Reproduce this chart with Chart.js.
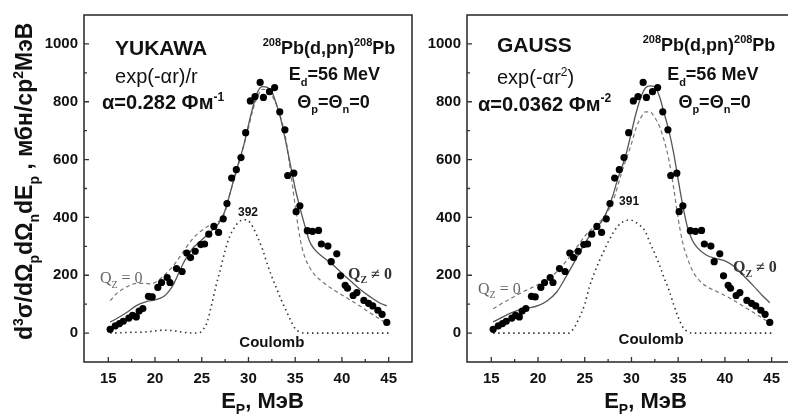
<!DOCTYPE html>
<html>
<head>
<meta charset="utf-8">
<script src="https://cdn.jsdelivr.net/npm/chart.js@4.4.1/dist/chart.umd.min.js"></script>
<style>
  html, body { margin: 0; padding: 0; background: #fff; overflow: hidden; width: 788px; height: 416px; }
  .panel { position: absolute; top: 0; width: 420px; height: 416px; }
</style>
</head>
<body>
<div class="panel" style="left:0"><canvas id="yukawaChart" width="420" height="416"></canvas></div>
<div class="panel" style="left:383px"><canvas id="gaussChart" width="420" height="416"></canvas></div>
<script>
// tick labels
const xTicks = [15, 20, 25, 30, 35, 40, 45];
const yTicks = [0, 200, 400, 600, 800, 1000];

// experimental points (same for both panels)
const expE = [15.2, 15.75, 16.2, 16.6, 17.2, 17.6, 18.0, 18.3, 18.7, 19.3, 19.7, 20.3, 20.7, 21.3, 21.6,
  22.3, 22.9, 23.4, 23.8, 24.3, 24.9, 25.3, 25.75, 26.3, 26.8, 27.3, 27.7, 28.2, 28.7, 29.2, 29.7,
  30.2, 30.7, 31.25, 31.6, 32.25, 32.8, 33.35, 33.9, 34.2, 34.85, 35.1, 35.5, 36.3, 36.85, 37.5,
  37.8, 38.5, 38.85, 39.45, 39.85, 40.35, 40.6, 41.2, 41.6, 42.35, 42.85, 43.3, 43.85, 44.3, 44.8];
const expV = [13, 25, 33, 41, 52, 61, 56, 76, 85, 127, 125, 158, 175, 192, 175,
  223, 213, 277, 261, 283, 306, 308, 342, 369, 348, 395, 448, 536, 565, 607, 693,
  803, 818, 867, 815, 835, 849, 765, 703, 545, 553, 420, 440, 354, 352, 355,
  308, 301, 247, 274, 198, 165, 155, 130, 140, 113, 103, 94, 79, 65, 37];

// YUKAWA: Q_Z != 0 (solid), Q_Z = 0 (dashed), Coulomb (dotted)
const yukSolidE = [15.2, 16, 17, 18, 19, 20, 20.5, 21, 21.5, 22, 22.5, 23, 23.5, 24, 24.5, 25, 26, 27, 27.5, 28,
  28.5, 29, 29.5, 30, 30.5, 31, 31.5, 32, 32.5, 33, 33.5, 34, 34.5, 35, 35.5, 36, 36.5, 37, 38, 39, 40, 41, 42, 43, 44, 44.8];
const yukSolidV = [38, 52, 72, 95, 108, 115, 120, 128, 145, 170, 205, 240, 268, 292, 308, 322, 352, 388, 425, 480,
  540, 595, 650, 720, 785, 835, 852, 850, 835, 790, 735, 660, 580, 500, 435, 375, 320, 292, 262, 237, 207, 178, 150, 126, 105, 94];
const yukDashE = [15.2, 16, 17, 18, 19, 19.5, 20, 21, 22, 23, 24, 25, 26, 27, 27.5, 28, 29, 30, 30.5, 31, 31.5, 32,
  32.5, 33, 33.5, 34, 34.5, 35, 35.5, 36, 36.5, 37, 38, 39, 40, 41, 42, 43, 44, 44.8];
const yukDashV = [112, 140, 160, 172, 172, 170, 175, 200, 235, 280, 325, 355, 375, 392, 420, 480, 590, 710, 775, 820, 843, 840,
  820, 790, 740, 670, 560, 440, 330, 265, 230, 205, 175, 152, 132, 112, 92, 70, 50, 32];
const yukCoulE = [15.2, 17, 19, 21, 22, 23, 24, 24.8, 25.2, 25.6, 26, 26.5, 27, 27.5, 28, 28.5, 29, 29.5, 30, 30.5,
  31, 31.5, 32, 32.5, 33, 33.5, 34, 34.5, 35, 35.5, 36, 45];
const yukCoulV = [0, 2, 4, 10, 8, 3, 0, 2, 15, 40, 90, 160, 220, 285, 335, 365, 385, 392, 388, 365,
  330, 290, 240, 195, 155, 115, 80, 45, 15, 4, 0, 0];

// GAUSS
const gauSolidE = [15.2, 16, 17, 18, 19, 20, 21, 22, 23, 24, 25, 26, 27, 28, 28.5, 29, 29.5, 30, 30.5, 31, 31.5, 32,
  32.5, 33, 33.5, 34, 34.5, 35, 35.5, 36, 36.5, 37, 38, 39, 40, 41, 42, 43, 44, 44.8];
const gauSolidV = [39, 52, 68, 80, 87, 95, 112, 142, 195, 252, 310, 358, 395, 475, 530, 575, 628, 695, 762, 815, 848, 855,
  852, 818, 760, 700, 625, 530, 440, 365, 322, 297, 270, 258, 250, 230, 198, 165, 130, 105];
const gauDashE = [15.2, 16, 17, 18, 19, 20, 21, 22, 23, 24, 25, 26, 27, 28, 29, 30, 30.5, 31, 31.5, 32, 32.5, 33, 33.5,
  34, 34.5, 35, 35.5, 36, 36.5, 37, 38, 39, 40, 41, 42, 43, 44, 44.8];
const gauDashV = [84, 100, 118, 136, 152, 168, 185, 212, 248, 290, 335, 368, 400, 455, 560, 655, 710, 745, 765, 765, 745, 715, 665,
  600, 505, 395, 310, 258, 218, 192, 162, 146, 130, 112, 92, 72, 52, 35];
const gauCoulE = [15.2, 17, 19, 21, 23.3, 23.8, 24.3, 25, 25.5, 26, 26.5, 27, 27.5, 28, 28.5, 29, 29.5, 30, 30.5, 31,
  31.5, 32, 32.5, 33, 33.5, 34, 34.5, 35, 35.5, 36, 36.5, 45];
const gauCoulV = [0, 0, 0, 0, 0, 15, 45, 100, 160, 205, 245, 280, 315, 345, 368, 383, 390, 390, 382, 370,
  350, 310, 275, 235, 190, 150, 100, 55, 20, 5, 0, 0];

const SANS = '"Liberation Sans", Arial, sans-serif';
const SERIF = '"Liberation Serif", "Times New Roman", serif';

const pairs = (xs, ys) => xs.map((x, i) => ({ x, y: ys[i] }));

function fontStr(size, bold, family) {
  return (bold ? 'bold ' : '') + size + 'px ' + family;
}

// draws text made of [text, 'sup'|'sub'] parts, y is the vertical centre of capitals
function richText(ctx, parts, x, y, o) {
  const size = o.size, fam = o.family || SANS;
  const small = Math.round(size * 0.62);
  const widths = parts.map(([t, k]) => {
    ctx.font = fontStr(k ? small : size, o.bold, fam);
    return ctx.measureText(t).width;
  });
  const total = widths.reduce((a, b) => a + b, 0);
  let cx = o.align === 'center' ? x - total / 2 : (o.align === 'right' ? x - total : x);
  const base = y + size * 0.36;
  ctx.fillStyle = o.color || '#111';
  ctx.textBaseline = 'alphabetic';
  ctx.textAlign = 'left';
  parts.forEach(([t, k], i) => {
    ctx.font = fontStr(k ? small : size, o.bold, fam);
    const dy = k === 'sup' ? -size * 0.42 : (k === 'sub' ? size * 0.28 : 0);
    ctx.fillText(t, cx, base + dy);
    cx += widths[i];
  });
}

const decorPlugin = {
  id: 'decor',
  afterDraw(chart) {
    const { ctx, chartArea: a, scales: { x, y } } = chart;
    const cfg = chart.options.plugins.decor;
    ctx.save();
    // frame
    ctx.strokeStyle = '#333';
    ctx.lineWidth = 1.6;
    ctx.strokeRect(a.left, a.top, a.right - a.left, a.bottom - a.top);
    // inside ticks, major and minor
    ctx.lineWidth = 1.3;
    ctx.beginPath();
    xTicks.forEach((v, i) => {
      const px = x.getPixelForValue(v);
      ctx.moveTo(px, a.bottom); ctx.lineTo(px, a.bottom - 5);
      if (i < xTicks.length - 1) {
        const pm = x.getPixelForValue(v + 2.5);
        ctx.moveTo(pm, a.bottom); ctx.lineTo(pm, a.bottom - 3);
      }
    });
    yTicks.forEach(v => {
      const py = y.getPixelForValue(v);
      ctx.moveTo(a.left, py); ctx.lineTo(a.left + 5, py);
      const pm = y.getPixelForValue(v + 100);
      if (pm > a.top) { ctx.moveTo(a.left, pm); ctx.lineTo(a.left + 3, pm); }
    });
    ctx.stroke();

    // annotations placed in data coordinates
    cfg.labels.forEach(l => {
      richText(ctx, l.parts, x.getPixelForValue(l.at[0]), y.getPixelForValue(l.at[1]), l);
    });

    // x title
    richText(ctx, [['E'], ['P', 'sub'], [', МэВ']], x.getPixelForValue(31.5), a.bottom + 38,
      { size: 22, bold: true, align: 'center', color: '#111' });

    // y title (left panel only)
    if (cfg.yTitle) {
      ctx.translate(24, y.getPixelForValue(525));
      ctx.rotate(-Math.PI / 2);
      richText(ctx, [['d'], ['3', 'sup'], ['σ/dΩ'], ['p', 'sub'], ['dΩ'], ['n', 'sub'], ['dE'], ['p', 'sub'],
        [' , мбн/ср'], ['2', 'sup'], ['МэВ']], 0, 0, { size: 23, bold: true, align: 'center', color: '#111' });
    }
    ctx.restore();
  }
};

function makePanel(id, solid, dash, coul, labels, yTitle) {
  const tickFont = { family: SANS, size: 15, weight: 'bold' };
  new Chart(document.getElementById(id), {
    type: 'line',
    data: {
      datasets: [
        { data: pairs(expE, expV), showLine: false, pointRadius: 3.6, pointBackgroundColor: '#000',
          pointBorderColor: '#000', pointBorderWidth: 0 },
        { data: solid, borderColor: '#555', borderWidth: 1.3, pointRadius: 0, cubicInterpolationMode: 'monotone' },
        { data: dash, borderColor: '#777', borderWidth: 1.2, borderDash: [4, 3], pointRadius: 0,
          cubicInterpolationMode: 'monotone' },
        { data: coul, borderColor: '#333', borderWidth: 1.6, borderDash: [1.5, 3.5], pointRadius: 0,
          cubicInterpolationMode: 'monotone' }
      ]
    },
    options: {
      responsive: false,
      animation: false,
      layout: { padding: { top: 10, right: 8, left: 0, bottom: 0 } },
      plugins: {
        legend: { display: false },
        tooltip: { enabled: false },
        decor: { labels, yTitle }
      },
      scales: {
        x: {
          type: 'linear', min: 12.4, max: 47.5,
          afterBuildTicks: s => { s.ticks = xTicks.map(v => ({ value: v })); },
          afterFit: s => { s.height = 54; },
          grid: { display: false, drawTicks: false },
          border: { display: false },
          ticks: { font: tickFont, color: '#111', padding: 8, maxRotation: 0, callback: v => String(v) }
        },
        y: {
          type: 'linear', min: -100, max: 1100,
          afterBuildTicks: s => { s.ticks = yTicks.map(v => ({ value: v })); },
          afterFit: s => { s.width = 84; },
          grid: { display: false, drawTicks: false },
          border: { display: false },
          ticks: { font: tickFont, color: '#111', padding: 6, callback: v => String(v) }
        }
      }
    },
    plugins: [decorPlugin]
  });
}

const gray = '#666';
const yukLabels = [
  { parts: [['YUKAWA']], at: [15.72, 989], size: 21, bold: true, align: 'left' },
  { parts: [['exp(-αr)/r']], at: [15.72, 890], size: 20, bold: false, align: 'left' },
  { parts: [['α=0.282 Фм'], ['-1', 'sup']], at: [14.33, 800], size: 20, bold: true, align: 'left' },
  { parts: [['208', 'sup'], ['Pb(d,pn)'], ['208', 'sup'], ['Pb']], at: [38.62, 989], size: 18, bold: true, align: 'center' },
  { parts: [['E'], ['d', 'sub'], ['=56 MeV']], at: [39.2, 896], size: 18, bold: true, align: 'center' },
  { parts: [['Θ'], ['p', 'sub'], ['=Θ'], ['n', 'sub'], ['=0']], at: [39.1, 800], size: 18, bold: true, align: 'center' },
  { parts: [['Q'], ['Z', 'sub'], [' = 0']], at: [14.1, 193], size: 16, family: SERIF, color: gray, align: 'left' },
  { parts: [['Q'], ['Z', 'sub'], [' ≠ 0']], at: [40.65, 207], size: 16, family: SERIF, bold: true, color: '#333', align: 'left' },
  { parts: [['Coulomb']], at: [32.5, -28], size: 15, bold: true, align: 'center' },
  { parts: [['392']], at: [29.95, 421], size: 12, bold: true, align: 'center' }
];
const gauLabels = [
  { parts: [['GAUSS']], at: [15.61, 999], size: 21, bold: true, align: 'left' },
  { parts: [['exp(-αr'], ['2', 'sup'], [')']], at: [15.61, 886], size: 20, bold: false, align: 'left' },
  { parts: [['α=0.0362 Фм'], ['-2', 'sup']], at: [13.58, 794], size: 20, bold: true, align: 'left' },
  { parts: [['208', 'sup'], ['Pb(d,pn)'], ['208', 'sup'], ['Pb']], at: [38.3, 999], size: 18, bold: true, align: 'center' },
  { parts: [['E'], ['d', 'sub'], ['=56 MeV']], at: [38.7, 896], size: 18, bold: true, align: 'center' },
  { parts: [['Θ'], ['p', 'sub'], ['=Θ'], ['n', 'sub'], ['=0']], at: [38.9, 800], size: 18, bold: true, align: 'center' },
  { parts: [['Q'], ['Z', 'sub'], [' = 0']], at: [13.58, 156], size: 16, family: SERIF, color: gray, align: 'left' },
  { parts: [['Q'], ['Z', 'sub'], [' ≠ 0']], at: [40.86, 231], size: 16, family: SERIF, bold: true, color: '#333', align: 'left' },
  { parts: [['Coulomb']], at: [32.1, -18], size: 15, bold: true, align: 'center' },
  { parts: [['391']], at: [29.75, 459], size: 12, bold: true, align: 'center' }
];

makePanel('yukawaChart', pairs(yukSolidE, yukSolidV), pairs(yukDashE, yukDashV), pairs(yukCoulE, yukCoulV), yukLabels, true);
makePanel('gaussChart', pairs(gauSolidE, gauSolidV), pairs(gauDashE, gauDashV), pairs(gauCoulE, gauCoulV), gauLabels, false);
</script>
</body>
</html>
